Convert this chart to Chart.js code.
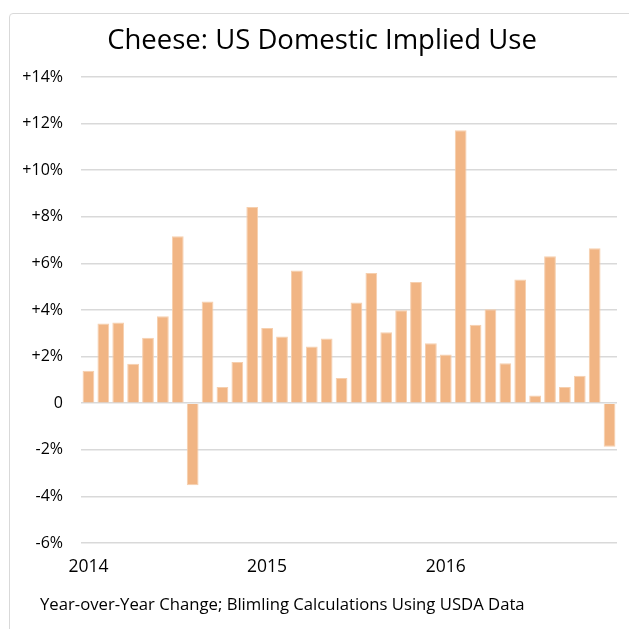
<!DOCTYPE html>
<html>
<head>
<meta charset="utf-8">
<script src="https://cdn.jsdelivr.net/npm/chart.js@4"></script>
<style>
  html, body { margin: 0; padding: 0; background: #fff; }
  #wrap { position: relative; width: 629px; height: 629px; overflow: hidden; }
  #frame {
    position: absolute; left: 9px; top: 13px; width: 700px; height: 700px;
    border: 1.5px solid #d9d9d9; border-radius: 4px; pointer-events: none;
  }
  #title {
    position: absolute; left: 22px; width: 600px; top: 20px; margin: 0; text-align: center;
    font: 27.5px "Open Sans", "DejaVu Sans", sans-serif; color: #000; white-space: nowrap;
  }
  #note {
    position: absolute; left: 40px; top: 592px; margin: 0;
    font: 16.7px "Open Sans", "DejaVu Sans", sans-serif; color: #000; white-space: nowrap;
  }
</style>
</head>
<body>
<div id="wrap">
  <canvas id="cheeseChart" width="629" height="629"></canvas>
  <div id="frame"></div>
  <p id="title">Cheese: US Domestic Implied Use</p>
  <p id="note">Year-over-Year Change; Blimling Calculations Using USDA Data</p>
</div>
<script>
  // Monthly year-over-year change, Jan 2014 - Dec 2016
  const years = ['2014', '2015', '2016'];
  const months = ['Jan', 'Feb', 'Mar', 'Apr', 'May', 'Jun', 'Jul', 'Aug', 'Sep', 'Oct', 'Nov', 'Dec'];
  const yoyChange = [
    1.39, 3.42, 3.46, 1.69, 2.81, 3.73, 7.17, -3.52, 4.37, 0.69, 1.77, 8.42,
    3.23, 2.86, 5.70, 2.43, 2.78, 1.08, 4.32, 5.59, 3.04, 3.99, 5.20, 2.57,
    2.09, 11.71, 3.37, 4.03, 1.71, 5.31, 0.33, 6.31, 0.69, 1.18, 6.65, -1.87
  ];
  const yMin = -6;
  const yMax = 14;
  const yStep = 2;

  const labels = [];
  years.forEach(function (y) {
    months.forEach(function (m) { labels.push(m + ' ' + y); });
  });

  const font = '"Open Sans", "DejaVu Sans", sans-serif';
  const ctx = document.getElementById('cheeseChart').getContext('2d');

  new Chart(ctx, {
    type: 'bar',
    data: {
      labels: labels,
      datasets: [{
        data: yoyChange,
        backgroundColor: '#f1b584',
        borderColor: '#f6cfae',
        borderWidth: 1,
        categoryPercentage: 1,
        barPercentage: 0.79
      }]
    },
    options: {
      responsive: false,
      animation: false,
      layout: {
        padding: { left: 0, right: 12, top: 77, bottom: 37 }
      },
      plugins: {
        legend: { display: false },
        tooltip: { enabled: false },
        title: { display: false }
      },
      scales: {
        x: {
          grid: { display: false, drawTicks: false },
          border: { display: false },
          ticks: {
            autoSkip: false,
            maxRotation: 0,
            padding: 14,
            color: '#000',
            font: { family: font, size: 17.5 },
            callback: function (value, index) {
              return index % 12 === 0 ? years[index / 12] : '';
            }
          }
        },
        y: {
          min: yMin,
          max: yMax,
          afterFit: function (scale) { scale.width = 81; },
          grid: { color: '#d9d9d9', lineWidth: 1.5, drawTicks: false },
          border: { display: false },
          ticks: {
            stepSize: yStep,
            padding: 18,
            color: '#000',
            font: { family: font, size: 16 },
            callback: function (value) {
              if (value > 0) return '+' + value + '%';
              if (value === 0) return '0';
              return value + '%';
            }
          }
        }
      }
    }
  });
</script>
</body>
</html>
